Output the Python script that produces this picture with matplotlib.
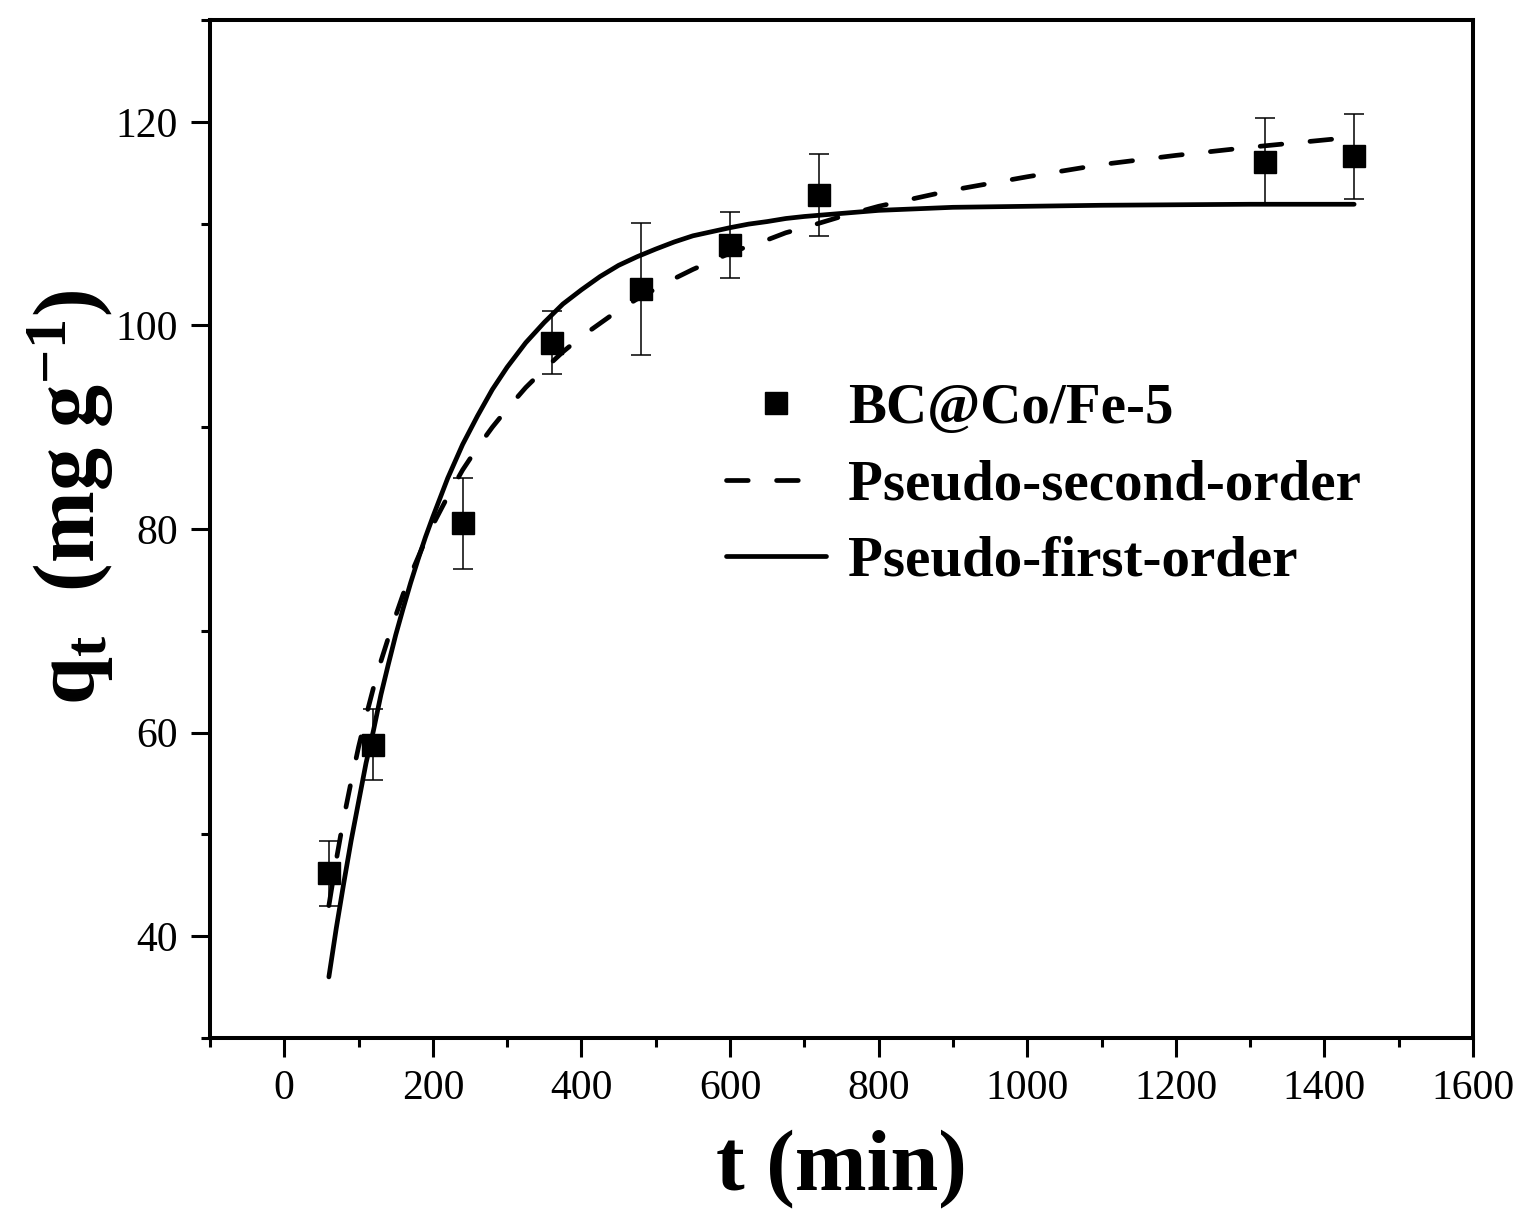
import matplotlib
matplotlib.use("Agg")
import matplotlib.pyplot as plt
from matplotlib.ticker import MultipleLocator
from matplotlib.lines import Line2D

plt.rcParams['font.family'] = ['Liberation Serif', 'DejaVu Serif']
plt.rcParams['mathtext.fontset'] = 'custom'
plt.rcParams['mathtext.rm'] = 'Liberation Serif'
plt.rcParams['mathtext.it'] = 'Liberation Serif:italic'
plt.rcParams['mathtext.bf'] = 'Liberation Serif:bold'

# Experimental data
t_data = [60, 120, 240, 360, 480, 600, 720, 1320, 1440]
q_data = [46.2, 58.8, 80.55, 98.3, 103.6, 107.9, 112.8, 116.1, 116.6]
q_err = [3.2, 3.5, 4.45, 3.1, 6.5, 3.2, 4.0, 4.3, 4.2]

# Fitted curves
t_fit = [60, 70, 80, 90, 100, 110, 120, 130, 140, 150, 160, 170, 180, 190,
         200, 220, 240, 260, 280, 300, 325, 350, 375, 400, 425, 450, 475,
         500, 525, 550, 575, 600, 625, 650, 675, 700, 750, 800, 850, 900,
         1000, 1100, 1200, 1300, 1440]
q_pso = [43.0, 47.5, 51.6, 55.2, 58.6, 61.6, 64.4, 67.0, 69.3, 71.5, 73.6,
         75.5, 77.2, 78.9, 80.4, 83.2, 85.8, 88.0, 90.0, 91.8, 93.9, 95.7,
         97.4, 98.9, 100.2, 101.5, 102.6, 103.6, 104.6, 105.5, 106.3, 107.1,
         107.8, 108.4, 109.1, 109.6, 110.7, 111.7, 112.5, 113.3, 114.6,
         115.8, 116.7, 117.5, 118.5]
q_pfo = [36.0, 40.8, 45.2, 49.4, 53.2, 57.0, 60.2, 63.7, 66.7, 69.6, 72.2,
         74.7, 77.0, 79.2, 81.2, 85.0, 88.3, 91.1, 93.7, 95.9, 98.3, 100.3,
         102.1, 103.5, 104.8, 105.9, 106.75, 107.5, 108.2, 108.8, 109.2,
         109.6, 109.95, 110.2, 110.5, 110.7, 111.0, 111.3, 111.45, 111.6,
         111.7, 111.8, 111.85, 111.9, 111.9]

labels = ['BC@Co/Fe-5', 'Pseudo-second-order', 'Pseudo-first-order']

fig = plt.figure(figsize=(15.3, 12.17), dpi=100)
ax = fig.add_axes([210/1530, 1-1038/1217, (1473-210)/1530, (1038-20)/1217])

MS = 15.6
LW = 3.4
DASH = (0, (4.6, 6.0))

ax.errorbar(t_data, q_data, yerr=q_err, fmt='s', color='black',
            markersize=MS, elinewidth=1.1, capsize=7.0, capthick=1.1,
            ecolor='black', zorder=3)
ax.plot(t_fit, q_pso, color='black', lw=LW, linestyle=DASH,
        dash_capstyle='round', zorder=4)
ax.plot(t_fit, q_pfo, color='black', lw=LW, solid_capstyle='round', zorder=4)

ax.set_xlim(-100, 1600)
ax.set_ylim(30, 130)
ax.xaxis.set_major_locator(MultipleLocator(200))
ax.xaxis.set_minor_locator(MultipleLocator(100))
ax.yaxis.set_minor_locator(MultipleLocator(10))
ax.set_yticks([40, 60, 80, 100, 120])

for s in ax.spines.values():
    s.set_linewidth(2.9)
ax.tick_params(which='major', direction='out', length=14, width=2.2,
               labelsize=30, pad=9)
ax.tick_params(which='minor', direction='out', length=6.5, width=2.2)
ax.tick_params(top=False, right=False, which='both')

ax.set_xlabel('t (min)', fontsize=62, fontweight='bold', labelpad=15)
ax.set_ylabel(r'$\mathbf{q_t}$  $\mathbf{(mg\ g^{-1})}$', fontsize=62,
              labelpad=0)
ax.yaxis.label.set_y(0.531)

handles = [
    Line2D([], [], linestyle='none', marker='s', color='black', markersize=MS),
    Line2D([], [], color='black', lw=LW, linestyle=DASH, dash_capstyle='round'),
    Line2D([], [], color='black', lw=LW, solid_capstyle='round'),
]
ax.legend(handles=handles, labels=labels,
          loc='upper left', bbox_to_anchor=(726/1530, 1-383/1217),
          bbox_transform=fig.transFigure, frameon=False,
          prop={'weight': 'bold', 'size': 41}, handlelength=1.75,
          handletextpad=0.39, labelspacing=0.43, borderpad=0,
          borderaxespad=0)

fig.savefig('out.png', dpi=100)
